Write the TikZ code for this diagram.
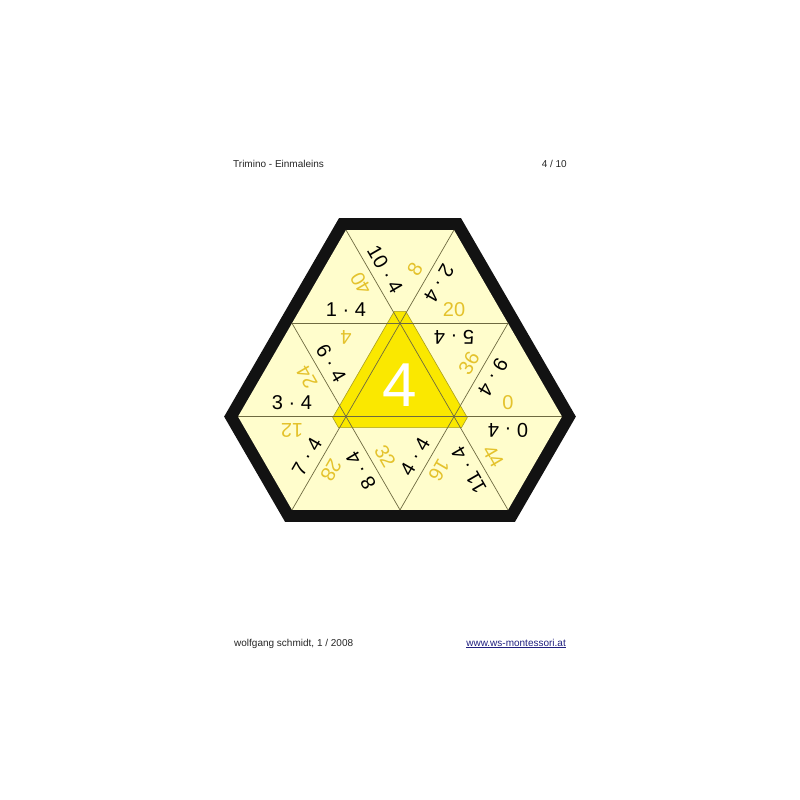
\documentclass[tikz,border=0pt]{standalone}
\usepackage{fontspec}
\setmainfont{Liberation Sans}
\definecolor{paleyel}{HTML}{FFFDCC}
\definecolor{ans}{HTML}{E4C22C}
\definecolor{gridc}{HTML}{6E6A40}
\definecolor{centyel}{HTML}{FAE800}
\definecolor{centline}{HTML}{A89E20}
\definecolor{linkblue}{HTML}{202080}
\newcommand\lab[6]{\node[#6,rotate=#4] (#1) at ({400+(#2)*54+14*cos((#4)+90)},{230+(#3)*93.3-14*sin((#4)+90)}) {#5};}
\begin{document}
\begin{tikzpicture}[x=1pt,y=-1pt,
  q/.style={font=\fontsize{20}{20}\selectfont, text=black, inner sep=0pt},
  a/.style={font=\fontsize{20}{20}\selectfont, text=ans, inner sep=0pt},
  hdr/.style={font=\fontsize{10}{12}\selectfont, inner sep=0pt, text=black!85},
  gridline/.style={draw=gridc, line width=0.7pt}]
\useasboundingbox (0,0) rectangle (800,800);
\fill[white] (0,0) rectangle (800,800);
% grid vertices
\coordinate (a1) at (346,230); \coordinate (a2) at (454,230);
\coordinate (b1) at (292,323.3); \coordinate (b2) at (400,323.3); \coordinate (b3) at (508,323.3);
\coordinate (c1) at (238,416.6); \coordinate (c2) at (346,416.6); \coordinate (c3) at (454,416.6); \coordinate (c4) at (562,416.6);
\coordinate (d1) at (292,509.9); \coordinate (d2) at (400,509.9); \coordinate (d3) at (508,509.9);
% border and field
\draw[line width=24pt, line join=miter, draw=black!93] (a1)--(a2)--(c4)--(d3)--(d1)--(c1)--cycle;
\fill[paleyel] (a1)--(a2)--(c4)--(d3)--(d1)--(c1)--cycle;
% central yellow tile
\filldraw[fill=centyel, draw=centline, line width=0.6pt]
  (394.23,311.3)--(405.77,311.3)--(467.28,417.6)--(461.5,427.6)--(338.5,427.6)--(332.72,417.6)--cycle;
% grid lines
\draw[gridline] (b1)--(b3);
\draw[gridline] (c1)--(c4);
\draw[gridline] (a1)--(d3);
\draw[gridline] (a2)--(d1);
\draw[gridline] (b1)--(d2);
\draw[gridline] (b3)--(d2);
% big number
\node[font=\fontsize{62}{62}\selectfont, text=white, inner sep=0pt] (big) at (400,385.5) {4};
% labels
\lab{l1}{-0.5}{0.5}{-60}{10 · 4}{q}
\lab{l2}{-0.5}{0.5}{120}{40}{a}
\lab{l3}{0.5}{0.5}{60}{8}{a}
\lab{l4}{0.5}{0.5}{-120}{2 · 4}{q}
\lab{l5}{-1}{1}{0}{1 · 4}{q}
\lab{l6}{-1}{1}{180}{4}{a}
\lab{l7}{1}{1}{0}{20}{a}
\lab{l8}{1}{1}{180}{5 · 4}{q}
\lab{l9}{-1.5}{1.5}{120}{24}{a}
\lab{l10}{-1.5}{1.5}{-60}{6 · 4}{q}
\lab{l11}{1.5}{1.5}{60}{36}{a}
\lab{l12}{1.5}{1.5}{-120}{9 · 4}{q}
\lab{l13}{-2}{2}{0}{3 · 4}{q}
\lab{l14}{-2}{2}{180}{12}{a}
\lab{l15}{2}{2}{0}{0}{a}
\lab{l16}{2}{2}{180}{0 · 4}{q}
\lab{l17}{-1.5}{2.5}{60}{7 · 4}{q}
\lab{l18}{-1.5}{2.5}{-120}{28}{a}
\lab{l19}{-0.5}{2.5}{120}{8 · 4}{q}
\lab{l20}{-0.5}{2.5}{-60}{32}{a}
\lab{l21}{0.5}{2.5}{60}{4 · 4}{q}
\lab{l22}{0.5}{2.5}{-120}{16}{a}
\lab{l23}{1.5}{2.5}{120}{11 · 4}{q}
\lab{l24}{1.5}{2.5}{-60}{44}{a}
% header and footer
\node[hdr, anchor=base west] (t1) at (233,167) {Trimino - Einmaleins};
\node[hdr, anchor=base east] (t2) at (567,167) {4 / 10};
\node[hdr, anchor=base west] (f1) at (234,646) {wolfgang schmidt, 1 / 2008};
\node[hdr, anchor=base east, text=linkblue] (f2) at (566,646) {\underline{www.ws-montessori.at}};
\end{tikzpicture}
\end{document}
